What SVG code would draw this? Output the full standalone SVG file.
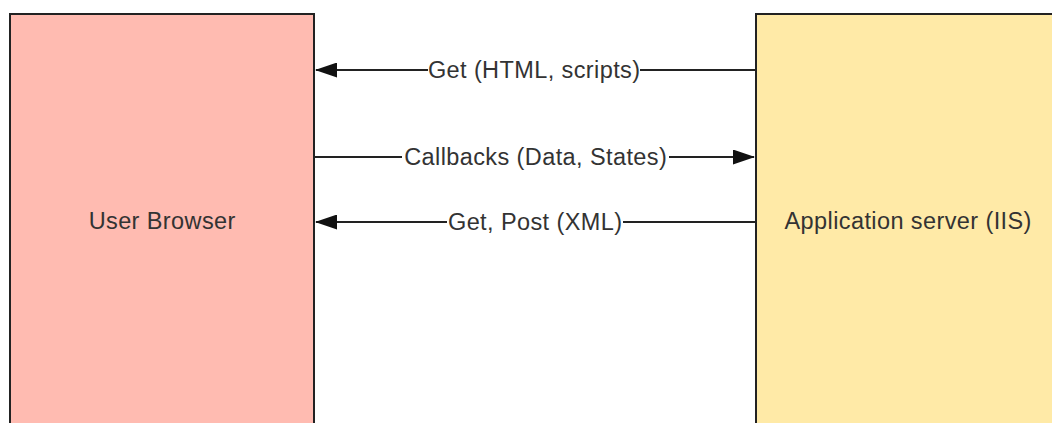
<svg xmlns="http://www.w3.org/2000/svg" width="1052" height="423" viewBox="0 0 1052 423">
<defs>
<style>
.node{stroke:#222;stroke-width:2}
.lbl{font-family:"Liberation Sans",Arial,sans-serif;font-size:23.5px;letter-spacing:0.4px;fill:#333;text-anchor:middle}
.edge{stroke:#222;stroke-width:2;fill:none}
.bg{fill:#fff}
</style>
<marker id="ah" viewBox="0 0 22 15" refX="21" refY="7.5" markerWidth="22" markerHeight="15" markerUnits="userSpaceOnUse" orient="auto">
<path d="M0,0 L22,7.5 L0,15 Z" fill="#111"/>
</marker>
</defs>
<rect width="1052" height="423" fill="#fff"/>
<g id="user-browser">
<rect class="node" x="10" y="14" width="304" height="420" fill="#FFBBB1"/>
<text class="lbl" x="162.2" y="229">User Browser</text>
</g>
<g id="app-server">
<rect class="node" x="756" y="14" width="304" height="420" fill="#FFEAA7"/>
<text class="lbl" x="908.2" y="229">Application server (IIS)</text>
</g>
<g id="connectors">
<g id="e1">
<line class="edge" x1="755" y1="70" x2="316" y2="70" marker-end="url(#ah)"/>
<rect class="bg" x="428" y="56" width="212" height="28"/>
<text class="lbl" x="534.2" y="78">Get (HTML, scripts)</text>
</g>
<g id="e2">
<line class="edge" x1="315" y1="157" x2="754" y2="157" marker-end="url(#ah)"/>
<rect class="bg" x="402" y="143" width="267" height="28"/>
<text class="lbl" x="535.7" y="165">Callbacks (Data, States)</text>
</g>
<g id="e3">
<line class="edge" x1="755" y1="222" x2="316" y2="222" marker-end="url(#ah)"/>
<rect class="bg" x="447" y="208" width="176" height="28"/>
<text class="lbl" x="535.2" y="230">Get, Post (XML)</text>
</g>
</g>
</svg>
